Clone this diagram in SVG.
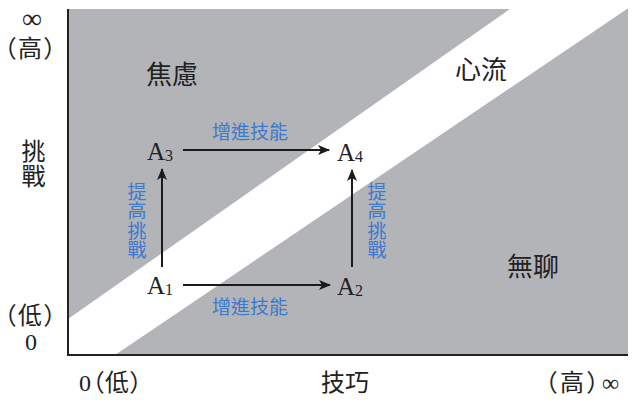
<svg xmlns="http://www.w3.org/2000/svg" width="632" height="404" viewBox="0 0 632 404">
<style>
.cjk{font-family:"Liberation Serif","Noto Sans CJK TC","Noto Sans CJK SC",serif;fill:#222;font-feature-settings:"palt";}
.lat{font-family:"Liberation Serif","DejaVu Serif",serif;fill:#222;}
.blue{font-family:"Noto Sans CJK TC","Noto Sans CJK SC",sans-serif;fill:#3b78cf;font-size:19px;}
.vert{writing-mode:vertical-rl;text-orientation:upright;}
.conn{stroke:#1a1a1a;stroke-width:2;fill:none;marker-end:url(#ah);}
.axis{stroke:#222;stroke-width:2;fill:none;}
</style>
<defs>
<marker id="ah" viewBox="0 0 12 10" refX="11" refY="5" markerWidth="12" markerHeight="10" markerUnits="userSpaceOnUse" orient="auto">
<path d="M0,0 L12,5 L0,10 L3,5 Z" fill="#1a1a1a"/>
</marker>
</defs>
<rect width="632" height="404" fill="#fff"/>
<g id="regions">
<rect x="68" y="9" width="560" height="346" fill="#b3b4b8"/>
<polygon points="68,319 510,9 627,9 115,355 68,355" fill="#fff"/>
</g>
<g id="axes">
<line class="axis" x1="68" y1="9" x2="68" y2="356"/>
<line class="axis" x1="67" y1="355" x2="628" y2="355"/>
</g>
<g id="axis-labels">
<text class="lat" x="32" y="28" font-size="28" text-anchor="middle">∞</text>
<text class="cjk" font-size="24" y="57" x="4" letter-spacing="2">（高）</text>
<text class="cjk vert" font-size="24" x="31" y="139" letter-spacing="1">挑戰</text>
<text class="cjk" font-size="24" y="324" x="4" letter-spacing="2">（低）</text>
<text class="lat" font-size="24" x="31" y="350" text-anchor="middle">0</text>
<text class="cjk" font-size="24" x="79" y="391" letter-spacing="1">0（低）</text>
<text class="cjk" font-size="24" x="345" y="391" text-anchor="middle">技巧</text>
<text class="cjk" font-size="24" y="391" x="545" letter-spacing="3">（高）∞</text>
</g>
<g id="zones">
<text class="cjk" font-size="26" x="172" y="84" text-anchor="middle">焦慮</text>
<text class="cjk" font-size="26" x="481" y="79" text-anchor="middle">心流</text>
<text class="cjk" font-size="26" x="533" y="276" text-anchor="middle">無聊</text>
</g>
<g id="connectors">
<line class="conn" x1="183" y1="150" x2="329" y2="150"/>
<line class="conn" x1="183" y1="285" x2="330" y2="285"/>
<line class="conn" x1="162" y1="267" x2="162" y2="169"/>
<line class="conn" x1="352" y1="267" x2="352" y2="170"/>
</g>
<g id="connector-labels">
<text class="blue" x="250" y="139" text-anchor="middle">增進技能</text>
<text class="blue" x="250" y="314" text-anchor="middle">增進技能</text>
<text class="blue vert" x="137" y="182" letter-spacing="0.5">提高挑戰</text>
<text class="blue vert" x="377" y="182" letter-spacing="0.5">提高挑戰</text>
</g>
<g id="node-A3"><text class="lat" font-size="25" x="147" y="160">A<tspan font-size="16" dy="1">3</tspan></text></g>
<g id="node-A4"><text class="lat" font-size="25" x="337" y="161">A<tspan font-size="16" dy="1">4</tspan></text></g>
<g id="node-A1"><text class="lat" font-size="25" x="147" y="294">A<tspan font-size="16" dy="1">1</tspan></text></g>
<g id="node-A2"><text class="lat" font-size="25" x="337" y="295">A<tspan font-size="16" dy="1">2</tspan></text></g>
</svg>
